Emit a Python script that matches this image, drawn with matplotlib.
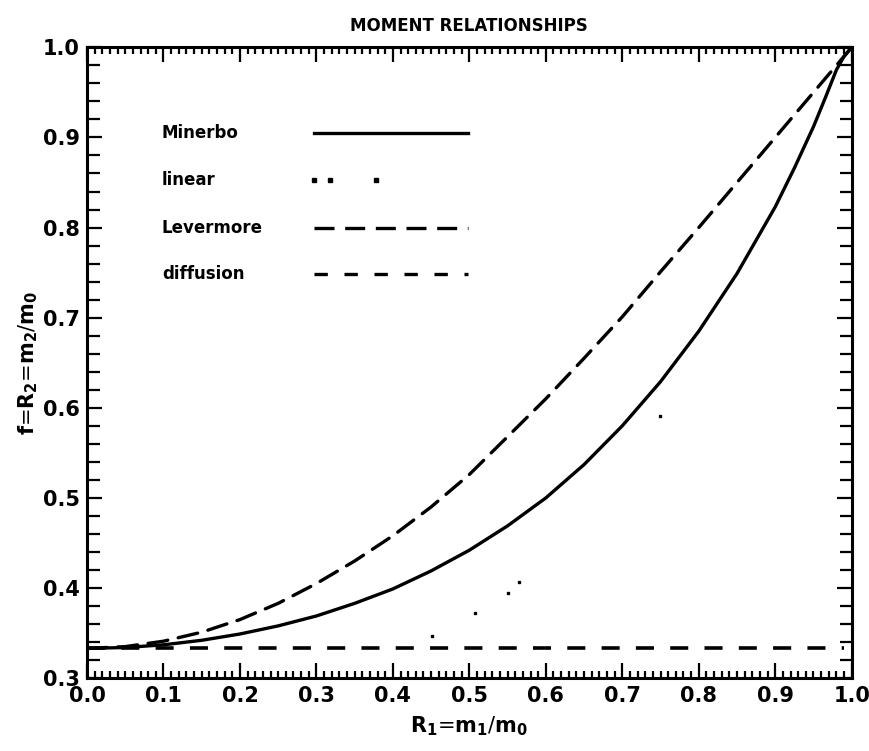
import matplotlib
matplotlib.use('Agg')
import matplotlib.pyplot as plt
from matplotlib.ticker import MultipleLocator

plt.rcParams['font.family'] = ['DejaVu Sans']
plt.rcParams['font.weight'] = 'bold'
plt.rcParams['mathtext.default'] = 'bf'

# values
flux = [0.0, 0.05, 0.1, 0.15, 0.2, 0.25, 0.3, 0.35, 0.4, 0.45, 0.5,
        0.55, 0.6, 0.65, 0.7, 0.75, 0.8, 0.85, 0.9, 0.925, 0.95, 0.965, 0.98, 0.99, 1.0]
minerbo = [0.333, 0.334, 0.337, 0.342, 0.349, 0.358, 0.369, 0.383, 0.399, 0.419, 0.442,
           0.469, 0.500, 0.537, 0.580, 0.629, 0.685, 0.749, 0.823, 0.866, 0.912, 0.943,
           0.975, 0.990, 1.0]
levermore = [0.333, 0.335, 0.341, 0.351, 0.365, 0.383, 0.405, 0.430, 0.458, 0.490, 0.526,
             0.568, 0.610, 0.655, 0.701, 0.751, 0.800, 0.850, 0.900, 0.925, 0.950, 0.965,
             0.980, 0.990, 1.0]
linear_x = [0.451, 0.508, 0.550, 0.565, 0.749]
linear_y = [0.347, 0.372, 0.395, 0.407, 0.591]
diffusion_x = [0.0, 0.99]
diffusion_y = [0.3333, 0.3333]

labels = ['Minerbo', 'linear', 'Levermore', 'diffusion']

fig = plt.figure(figsize=(8.7, 7.51), dpi=100)
ax = fig.add_axes([0.100, 0.097, 0.879, 0.840])

ax.plot(flux, minerbo, color='black', lw=2.4, solid_capstyle='round')
ax.plot(flux, levermore, color='black', lw=2.4, dashes=(6, 3.2), dash_capstyle='round')
ax.plot(linear_x, linear_y, color='black', ls='none', marker='s', ms=1.8)
ax.plot(diffusion_x, diffusion_y, color='black', lw=2.6, dashes=(5, 4.5))

# hand-drawn style legend: label then sample line
rows = [0.905, 0.853, 0.800, 0.748]
styles = [dict(ls='-'), dict(ls='none'), dict(dashes=(6, 3.2)), dict(dashes=(4, 5))]
for lab, yy, st in zip(labels, rows, styles):
    ax.text(0.098, yy, lab, fontsize=12, fontweight='bold', va='center', ha='left')
    if lab == 'linear':
        ax.plot([0.297, 0.318, 0.378], [yy, yy, yy], color='black', ls='none',
                marker='s', ms=2.5)
    else:
        ax.plot([0.297, 0.498], [yy, yy], color='black', lw=2.4, **st)

ax.set_xlim(0, 1)
ax.set_ylim(0.3, 1.0)
ax.xaxis.set_major_locator(MultipleLocator(0.1))
ax.xaxis.set_minor_locator(MultipleLocator(0.01))
ax.yaxis.set_major_locator(MultipleLocator(0.1))
ax.yaxis.set_minor_locator(MultipleLocator(0.02))
ax.xaxis.set_major_formatter(lambda v, p: f'{v:.1f}')
ax.yaxis.set_major_formatter(lambda v, p: f'{v:.1f}')

ax.tick_params(which='both', direction='in', top=True, right=True, width=1.6)
ax.tick_params(axis='x', which='major', length=11, pad=6, labelsize=15)
ax.tick_params(axis='x', which='minor', length=5)
ax.tick_params(axis='y', which='major', length=11, pad=5, labelsize=15)
ax.tick_params(axis='y', which='minor', length=9)
for lab in ax.get_xticklabels() + ax.get_yticklabels():
    lab.set_fontweight('bold')
for sp in ax.spines.values():
    sp.set_linewidth(2.2)

ax.set_title('MOMENT RELATIONSHIPS', fontsize=12, fontweight='bold', pad=12)
ax.set_xlabel(r'$R_1$=$m_1$/$m_0$', fontsize=15, labelpad=6)
ax.set_ylabel(r'$f$=$R_2$=$m_2$/$m_0$', fontsize=15, labelpad=2)

fig.savefig('out.png', dpi=100)
